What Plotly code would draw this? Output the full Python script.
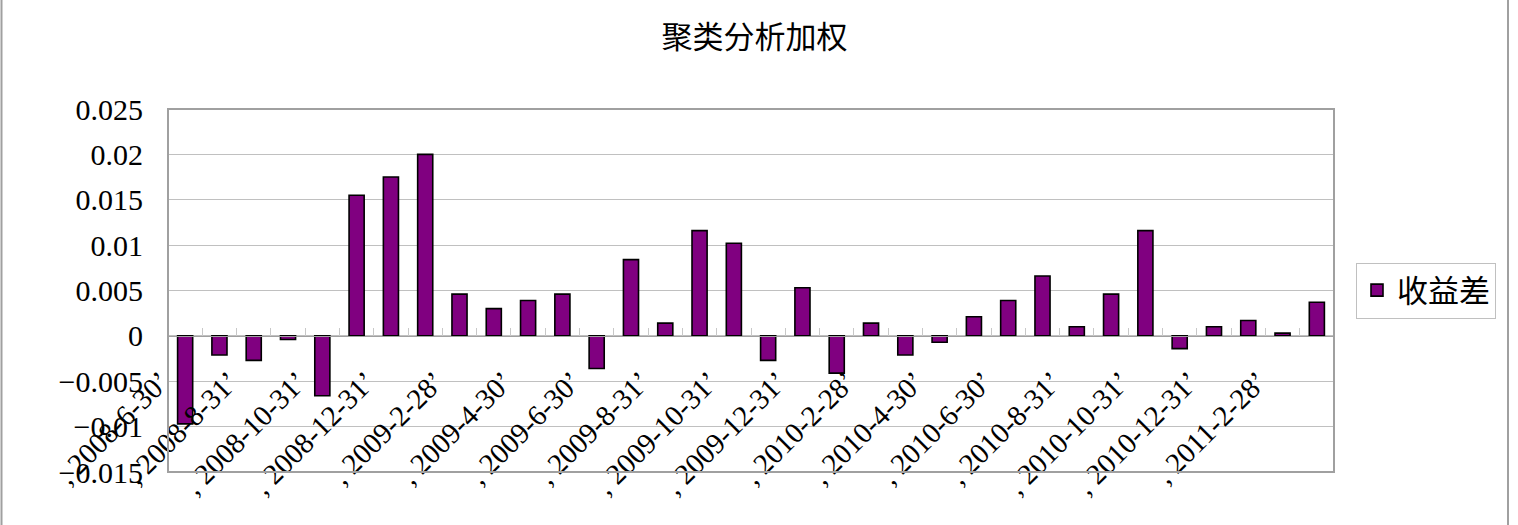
import plotly.graph_objects as go

dates = [
    "2008-6-30", "2008-7-31", "2008-8-31", "2008-9-30", "2008-10-31", "2008-11-30", "2008-12-31",
    "2009-1-31", "2009-2-28", "2009-3-31", "2009-4-30", "2009-5-31", "2009-6-30", "2009-7-31",
    "2009-8-31", "2009-9-30", "2009-10-31", "2009-11-30", "2009-12-31",
    "2010-1-31", "2010-2-28", "2010-3-31", "2010-4-30", "2010-5-31", "2010-6-30", "2010-7-31",
    "2010-8-31", "2010-9-30", "2010-10-31", "2010-11-30", "2010-12-31",
    "2011-1-31", "2011-2-28", "2011-3-31",
]
spread = [
    -0.0097, -0.0021, -0.0027, -0.0004, -0.0066, 0.0155, 0.0175,
    0.0200, 0.0046, 0.0030, 0.0039, 0.0046, -0.0036, 0.0084,
    0.0014, 0.0116, 0.0102, -0.0027, 0.0053,
    -0.0041, 0.0014, -0.0021, -0.0007, 0.0021, 0.0039, 0.0066,
    0.0010, 0.0046, 0.0116, -0.0014, 0.0010,
    0.0017, 0.0003, 0.0037,
]
series_name = "收益差"
title_text = "聚类分析加权"
y_tickvals = [0.025, 0.02, 0.015, 0.01, 0.005, 0, -0.005, -0.01, -0.015]
y_ticktext = ["0.025", "0.02", "0.015", "0.01", "0.005", "0", "−0.005", "−0.01", "−0.015"]

x_ticktext = [", " + d + "’" if i % 2 == 0 else "" for i, d in enumerate(dates)]

FONT = "Liberation Serif, Noto Sans CJK SC, serif"
CJK = "Noto Sans CJK SC, sans-serif"

fig = go.Figure()
fig.add_trace(go.Bar(
    x=dates, y=spread, name=series_name,
    marker=dict(color="#800080", line=dict(color="#000000", width=1.6)),
    showlegend=True,
))

W, H = 1518, 525
L, R, T, B = 168, 184, 109, 53
PW = W - L - R
ymin, ymax = -0.015, 0.025
zero_pos = (0 - ymin) / (ymax - ymin)

fig.update_layout(
    width=W, height=H,
    margin=dict(l=L, r=R, t=T, b=B, autoexpand=False),
    paper_bgcolor="white", plot_bgcolor="white",
    bargap=0.56,
    title=dict(text=title_text, x=0.497, xref="container", xanchor="center",
               y=1 - 37 / H, yref="container", yanchor="middle",
               font=dict(family=CJK, size=31, color="#000000")),
    legend=dict(x=(1356 - L) / PW, xanchor="left", y=0.50, yanchor="middle",
                bordercolor="#c0c0c0", borderwidth=1, bgcolor="white",
                font=dict(family=CJK, size=31, color="#000000"),
                itemwidth=30),
    xaxis=dict(
        type="category", anchor="free", position=zero_pos,
        tickmode="array", tickvals=dates, ticktext=x_ticktext,
        tickangle=-45, tickson="boundaries",
        ticks="inside", ticklen=8, tickcolor="#c8c8c8",
        showline=True, linecolor="#a0a0a0", linewidth=1,
        showgrid=False, automargin=False,
        ticklabelstandoff=16, ticklabelshift=-24,
        tickfont=dict(family=FONT, size=29, color="#000000"),
    ),
    yaxis=dict(
        range=[ymin, ymax], tickmode="array", tickvals=y_tickvals, ticktext=y_ticktext,
        showgrid=True, gridcolor="#c0c0c0", gridwidth=1,
        zeroline=False, showline=False, ticks="", automargin=False,
        ticklabelstandoff=24,
        tickfont=dict(family=FONT, size=30, color="#000000"),
    ),
    shapes=[
        dict(type="rect", xref="paper", yref="paper", x0=0, x1=1, y0=0, y1=1,
             line=dict(color="#a0a0a0", width=2), layer="above"),
        dict(type="line", xref="paper", yref="paper",
             x0=(1.5 - L) / PW, x1=(1.5 - L) / PW, y0=-1, y1=2,
             line=dict(color="#a0a0a0", width=2)),
        dict(type="line", xref="paper", yref="paper",
             x0=(1508 - L) / PW, x1=(1508 - L) / PW, y0=-1, y1=2,
             line=dict(color="#a0a0a0", width=2)),
    ],
)

fig.write_html(
    "out.html",
    config={"displayModeBar": False},
    post_script="document.body.style.margin='0';document.body.style.overflow='hidden';",
)
